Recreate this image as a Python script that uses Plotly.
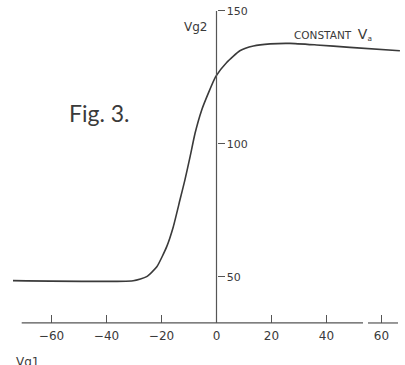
import plotly.graph_objects as go

# // data
vg1 = [-74, -30.3, -25.4, -21.7, -18.1, -15.7, -13.3, -11.5, -9.6, -7.8, -5.4, -3.0, -0.3,
       3.7, 8.5, 13.4, 19.5, 26.7, 36.4, 48.5, 66.7]
vg2 = [48.6, 48.6, 50.1, 53.8, 61.4, 68.9, 78.9, 86.4, 95.2, 104, 112.7, 119, 125.3,
       130.6, 135.0, 136.8, 137.6, 137.8, 137.2, 136.3, 135.0]
x_ticks = [-60, -40, -20, 0, 20, 40, 60]
y_ticks = [50, 100, 150]

ink = "#3a3a3a"
font = "DejaVu Sans"
W, H = 405, 365
x_range = [-78.73, 68.55]
y_range = [16.9, 154.1]
x_cross = 32.7  # y value where the horizontal axis sits

fig = go.Figure()
fig.add_trace(go.Scatter(
    x=vg1, y=vg2, mode="lines",
    line=dict(color=ink, width=1.6, shape="spline", smoothing=0.5),
    hoverinfo="skip", showlegend=False))

# // axis lines (drawn by hand, the old figure has them cut short)
axis_line = dict(color="#555555", width=1.2)
fig.add_shape(type="line", xref="paper", yref="y", x0=21.7 / W, x1=363 / W, y0=x_cross, y1=x_cross, line=axis_line)
fig.add_shape(type="line", xref="paper", yref="y", x0=368 / W, x1=398 / W, y0=x_cross, y1=x_cross, line=axis_line)
fig.add_shape(type="line", xref="x", yref="y", x0=0, x1=0, y0=x_cross, y1=150, line=axis_line)

# // labels
fig.add_annotation(text="Vg2", x=-7.8, y=143.9, xref="x", yref="y", showarrow=False,
                   font=dict(family=font, size=12, color=ink))
fig.add_annotation(text="CONSTANT  <span style='font-size:14px'>V</span><sub>a</sub>",
                   x=27.3, y=141.0, xref="x", yref="y",
                   xanchor="left", showarrow=False,
                   font=dict(family=font, size=10.5, color=ink))
fig.add_annotation(text="Fig. 3.", x=-42.5, y=111.5, xref="x", yref="y", showarrow=False,
                   font=dict(family="Lato", size=23, color=ink))
fig.add_annotation(text="Vg1", x=14 / W, y=1 - 353 / H, xref="paper", yref="paper",
                   xanchor="left", yanchor="top", showarrow=False,
                   font=dict(family=font, size=12, color=ink))

fig.update_xaxes(
    range=x_range, anchor="free", position=1 - 323 / H, automargin=False,
    showgrid=False, zeroline=False, showline=False,
    tickmode="array", tickvals=x_ticks,
    ticks="inside", ticklen=8, tickwidth=1.2, tickcolor="#555555",
    ticklabelstandoff=4,
    tickfont=dict(family=font, size=12, color=ink))
fig.update_yaxes(
    range=y_range, anchor="free", position=216.5 / W, side="right", automargin=False,
    showgrid=False, zeroline=False, showline=False,
    tickmode="array", tickvals=y_ticks,
    ticks="outside", ticklen=7, tickwidth=1.2, tickcolor="#555555",
    tickfont=dict(family=font, size=11, color=ink))

fig.update_layout(
    width=W, height=H,
    margin=dict(l=0, r=0, t=0, b=0),
    plot_bgcolor="white", paper_bgcolor="white",
    showlegend=False)

# body margin would push the fixed-size figure off by 8px
fig.write_html("out.html", config={"displayModeBar": False},
               post_script="document.body.style.margin='0';")
